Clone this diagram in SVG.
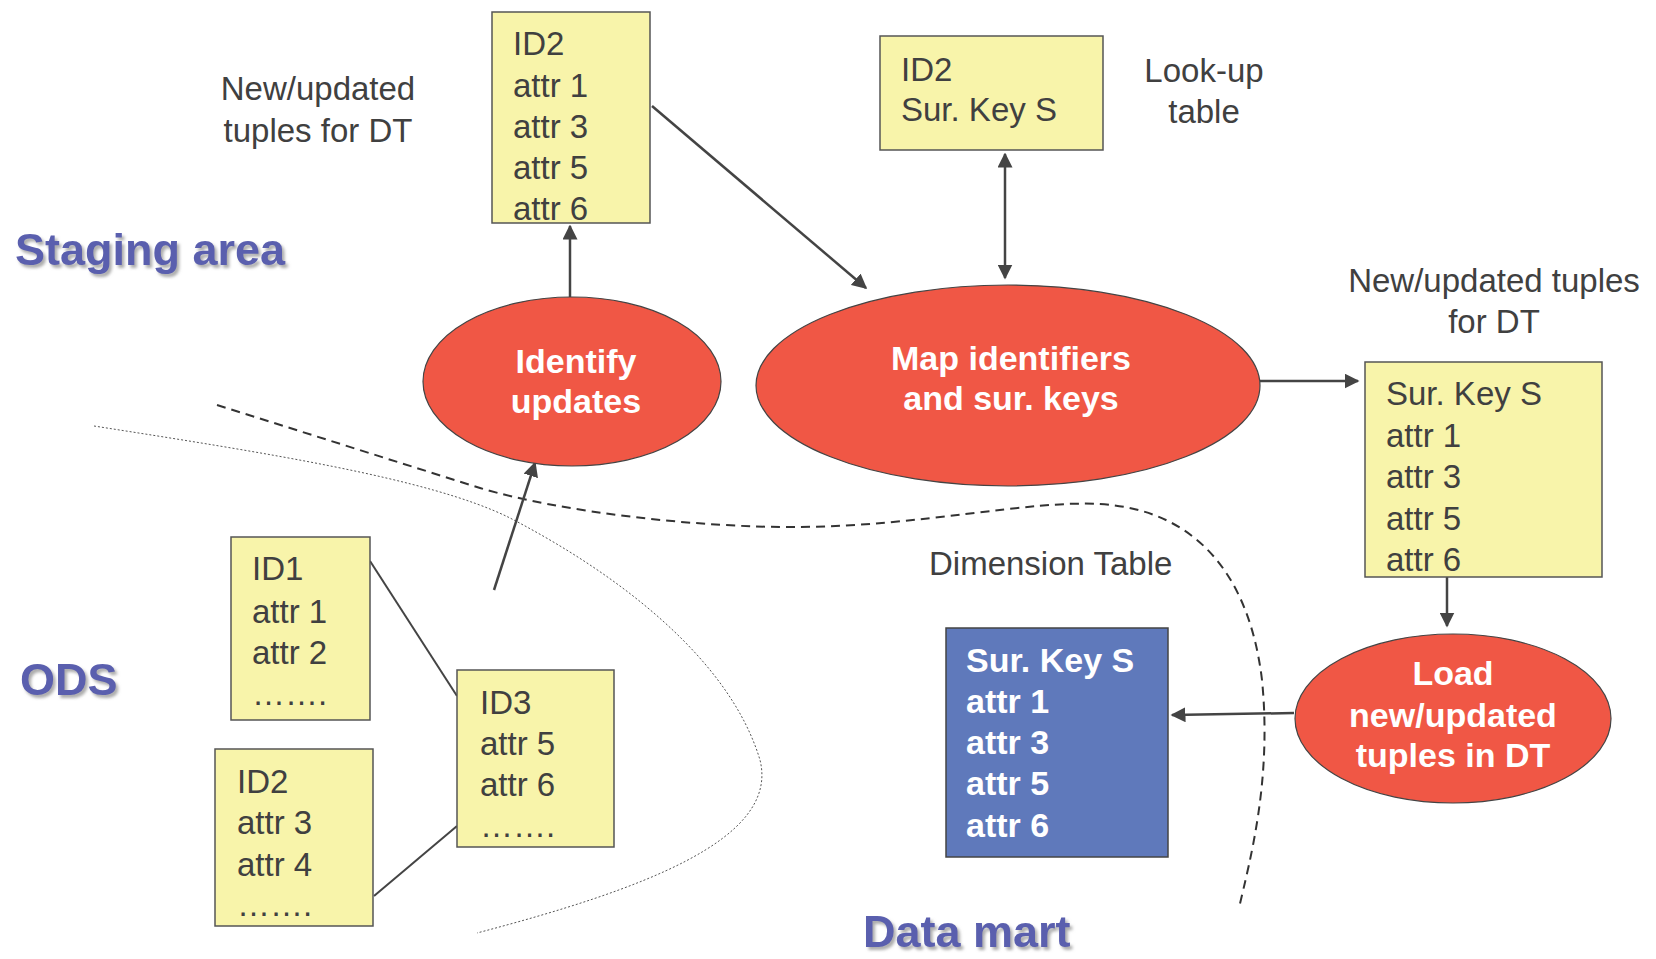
<svg xmlns="http://www.w3.org/2000/svg" width="1656" height="959" viewBox="0 0 1656 959">
<defs>
<style>
.box{fill:#f8f4aa;stroke:#555;stroke-width:1.5}
.dm{fill:#5f79bb;stroke:#444;stroke-width:1.5}
.proc{fill:#f05745;stroke:#444;stroke-width:1.2}
.t{font-family:"Liberation Sans",Arial,sans-serif;font-size:33px;fill:#404040}
.tw{font-family:"Liberation Sans",Arial,sans-serif;font-size:34px;font-weight:bold;fill:#fff}
.sec{font-family:"Liberation Sans",Arial,sans-serif;font-size:45px;font-weight:bold;fill:#5a5fae;filter:url(#sh)}
.c{stroke:#444;stroke-width:2.5;fill:none}
.ln{stroke:#444;stroke-width:2;fill:none}
</style>
<marker id="ah" viewBox="0 0 10 10" refX="9" refY="5" markerWidth="6" markerHeight="6" orient="auto-start-reverse" markerUnits="strokeWidth">
<path d="M0,0 L10,5 L0,10 z" fill="#444"/>
</marker>
<filter id="sh" x="-10%" y="-20%" width="130%" height="150%">
<feDropShadow dx="2.5" dy="3" stdDeviation="1.5" flood-color="#888" flood-opacity="0.7"/>
</filter>
</defs>
<rect width="1656" height="959" fill="#fff"/>

<!-- boundary lines -->
<g id="boundaries">
<path d="M217,405 L480,488 C560,512 700,528 800,527 C920,526 1030,500 1100,504 C1200,510 1250,580 1262,680 C1272,780 1250,860 1239,908" stroke="#333" stroke-width="2" fill="none" stroke-dasharray="9,6"/>
<path d="M94,426 C260,452 430,478 510,518 C620,575 730,660 760,760 C780,840 640,890 477,933" stroke="#555" stroke-width="1" fill="none" stroke-dasharray="2,2"/>
</g>

<!-- labels -->
<g id="labels">
<text class="sec" x="15" y="265">Staging area</text>
<text class="sec" x="20" y="695">ODS</text>
<text class="sec" x="863" y="947">Data mart</text>
<text class="t" x="318" y="100" text-anchor="middle">New/updated</text>
<text class="t" x="318" y="142" text-anchor="middle">tuples for DT</text>
<text class="t" x="1204" y="82" text-anchor="middle">Look-up</text>
<text class="t" x="1204" y="123" text-anchor="middle">table</text>
<text class="t" x="1494" y="292" text-anchor="middle">New/updated tuples</text>
<text class="t" x="1494" y="333" text-anchor="middle">for DT</text>
<text class="t" x="929" y="575">Dimension Table</text>
</g>

<!-- connectors -->
<g id="connectors">
<line class="c" x1="570" y1="297" x2="570" y2="226" marker-end="url(#ah)"/>
<line class="c" x1="652" y1="106" x2="866" y2="288" marker-end="url(#ah)"/>
<line class="c" x1="1005" y1="154" x2="1005" y2="278" marker-start="url(#ah)" marker-end="url(#ah)"/>
<line class="c" x1="1260" y1="381" x2="1358" y2="381" marker-end="url(#ah)"/>
<line class="c" x1="1447" y1="577" x2="1447" y2="626" marker-end="url(#ah)"/>
<line class="c" x1="1294" y1="713" x2="1172" y2="715" marker-end="url(#ah)"/>
<line class="c" x1="494" y1="590" x2="535" y2="463" marker-end="url(#ah)"/>
<line class="ln" x1="370" y1="561" x2="457" y2="696"/>
<line class="ln" x1="374" y1="896" x2="457" y2="826"/>
</g>

<!-- nodes -->
<g id="stg-id2">
<rect class="box" x="492" y="12" width="158" height="211"/>
<text class="t" x="513" y="55">ID2</text>
<text class="t" x="513" y="97">attr 1</text>
<text class="t" x="513" y="138">attr 3</text>
<text class="t" x="513" y="179">attr 5</text>
<text class="t" x="513" y="220">attr 6</text>
</g>

<g id="lookup">
<rect class="box" x="880" y="36" width="223" height="114"/>
<text class="t" x="901" y="81">ID2</text>
<text class="t" x="901" y="121">Sur. Key S</text>
</g>

<g id="identify">
<ellipse class="proc" cx="572" cy="381.5" rx="149" ry="84.5"/>
<text class="tw" x="576" y="373" text-anchor="middle">Identify</text>
<text class="tw" x="576" y="413" text-anchor="middle">updates</text>
</g>

<g id="map">
<ellipse class="proc" cx="1008" cy="385.5" rx="252" ry="100.5"/>
<text class="tw" x="1011" y="370" text-anchor="middle">Map identifiers</text>
<text class="tw" x="1011" y="410" text-anchor="middle">and sur. keys</text>
</g>

<g id="stg-sur">
<rect class="box" x="1365" y="362" width="237" height="215"/>
<text class="t" x="1386" y="405">Sur. Key S</text>
<text class="t" x="1386" y="447">attr 1</text>
<text class="t" x="1386" y="488">attr 3</text>
<text class="t" x="1386" y="530">attr 5</text>
<text class="t" x="1386" y="571">attr 6</text>
</g>

<g id="load">
<ellipse class="proc" cx="1453" cy="718.5" rx="158" ry="84.5"/>
<text class="tw" x="1453" y="685" text-anchor="middle">Load</text>
<text class="tw" x="1453" y="727" text-anchor="middle">new/updated</text>
<text class="tw" x="1453" y="767" text-anchor="middle">tuples in DT</text>
</g>

<g id="dim-table">
<rect class="dm" x="946" y="628" width="222" height="229"/>
<text class="tw" x="966" y="672">Sur. Key S</text>
<text class="tw" x="966" y="713">attr 1</text>
<text class="tw" x="966" y="754">attr 3</text>
<text class="tw" x="966" y="795">attr 5</text>
<text class="tw" x="966" y="837">attr 6</text>
</g>

<g id="ods-id1">
<rect class="box" x="231" y="537" width="139" height="183"/>
<text class="t" x="252" y="580">ID1</text>
<text class="t" x="252" y="623">attr 1</text>
<text class="t" x="252" y="664">attr 2</text>
<text class="t" x="252" y="705">…….</text>
</g>

<g id="ods-id2">
<rect class="box" x="215" y="749" width="158" height="177"/>
<text class="t" x="237" y="793">ID2</text>
<text class="t" x="237" y="834">attr 3</text>
<text class="t" x="237" y="876">attr 4</text>
<text class="t" x="237" y="916">…….</text>
</g>

<g id="ods-id3">
<rect class="box" x="457" y="670" width="157" height="177"/>
<text class="t" x="480" y="714">ID3</text>
<text class="t" x="480" y="755">attr 5</text>
<text class="t" x="480" y="796">attr 6</text>
<text class="t" x="480" y="837">…….</text>
</g>
</svg>
